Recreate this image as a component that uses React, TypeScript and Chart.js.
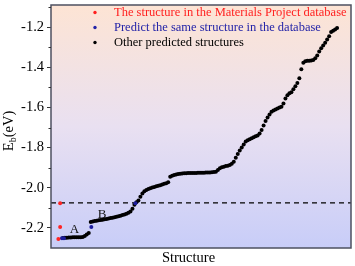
import React, { useEffect, useRef } from "react";
import { Chart, registerables } from "chart.js";

Chart.register(...registerables);

// Energies (eV) of "Other predicted structures", sorted; structure index starts at 6
const otherStart = 6;
const otherEnergies: number[] = [
  -2.250, -2.249, -2.249, -2.248, -2.248, -2.247, -2.247, -2.247, -2.246, -2.246,
  -2.245, -2.240, -2.233, -2.225, -2.171, -2.168, -2.166, -2.164, -2.162, -2.161,
  -2.159, -2.157, -2.155, -2.153, -2.151, -2.149, -2.147, -2.145, -2.142, -2.139,
  -2.136, -2.133, -2.129, -2.125, -2.118, -2.105, -2.085, -2.072, -2.063, -2.045,
  -2.028, -2.018, -2.011, -2.006, -2.002, -1.999, -1.996, -1.993, -1.990, -1.987,
  -1.984, -1.980, -1.977, -1.973, -1.945, -1.940, -1.937, -1.934, -1.932, -1.930,
  -1.929, -1.928, -1.928, -1.927, -1.927, -1.926, -1.926, -1.926, -1.925, -1.925,
  -1.925, -1.925, -1.924, -1.924, -1.924, -1.923, -1.922, -1.920, -1.912, -1.903,
  -1.898, -1.895, -1.892, -1.890, -1.887, -1.880, -1.870, -1.850, -1.832, -1.815,
  -1.800, -1.785, -1.770, -1.764, -1.758, -1.753, -1.748, -1.744, -1.740, -1.730,
  -1.713, -1.690, -1.668, -1.650, -1.635, -1.622, -1.615, -1.610, -1.605, -1.601,
  -1.597, -1.580, -1.555, -1.540, -1.530, -1.524, -1.510, -1.495, -1.478, -1.455,
  -1.410, -1.378, -1.370, -1.368, -1.367, -1.366, -1.364, -1.355, -1.342, -1.322,
  -1.305, -1.292, -1.278, -1.262, -1.245, -1.225, -1.218, -1.212, -1.205,
];

// Materials Project structures (red)
const mpIndex: number[] = [3.7, 4.6, 4.6];
const mpEnergies: number[] = [-2.255, -2.195, -2.077];

// Predicted same structure (blue)
const sameIndex: number[] = [5.5, 6.5, 20.3, 42.5];
const sameEnergies: number[] = [-2.252, -2.251, -2.196, -2.077];

const yTicks: number[] = [-2.2, -2.0, -1.8, -1.6, -1.4, -1.2];
const yMinorTicks: number[] = [-2.3, -2.1, -1.9, -1.7, -1.5, -1.3, -1.1];
const referenceLine = -2.075;

const legendItems: { label: string; color: string }[] = [
  { label: "The structure in the Materials Project database", color: "#ff1f1f" },
  { label: "Predict the same structure in the database", color: "#2323a8" },
  { label: "Other predicted structures", color: "#000000" },
];

const SERIF = "'Liberation Serif', 'Times New Roman', serif";

const decorPlugin = {
  id: "decor",
  beforeDatasetsDraw(chart: any) {
    const { ctx, chartArea: a, scales } = chart;
    ctx.save();
    const g = ctx.createLinearGradient(0, a.top, 0, a.bottom);
    g.addColorStop(0, "#fde4d4");
    g.addColorStop(0.5, "#e9e0f1");
    g.addColorStop(1, "#c8cdf8");
    ctx.fillStyle = g;
    ctx.fillRect(a.left, a.top, a.right - a.left, a.bottom - a.top);
    // dashed reference line
    const y = scales.y.getPixelForValue(referenceLine);
    ctx.strokeStyle = "#000";
    ctx.lineWidth = 1.2;
    ctx.setLineDash([5, 4]);
    ctx.beginPath();
    ctx.moveTo(a.left, y);
    ctx.lineTo(a.right, y);
    ctx.stroke();
    ctx.restore();
  },
  afterDraw(chart: any) {
    const { ctx, chartArea: a, scales } = chart;
    ctx.save();
    // frame
    ctx.strokeStyle = "#4d5060";
    ctx.lineWidth = 1.5;
    ctx.strokeRect(a.left, a.top, a.right - a.left, a.bottom - a.top);
    // minor ticks
    ctx.lineWidth = 1;
    ctx.strokeStyle = "#333";
    yMinorTicks.forEach((v) => {
      const py = Math.round(scales.y.getPixelForValue(v)) + 0.5;
      if (py < a.top || py > a.bottom) return;
      ctx.beginPath();
      ctx.moveTo(a.left - 2.5, py);
      ctx.lineTo(a.left, py);
      ctx.stroke();
    });
    // legend
    ctx.font = `12.5px ${SERIF}`;
    ctx.textBaseline = "middle";
    ctx.textAlign = "left";
    legendItems.forEach((it, i) => {
      const ly = 12.5 + i * 15;
      ctx.fillStyle = it.color;
      ctx.beginPath();
      ctx.arc(95, ly, 1.7, 0, Math.PI * 2);
      ctx.fill();
      ctx.fillText(it.label, 114, ly + 0.5);
    });
    // annotations
    ctx.fillStyle = "#111";
    ctx.font = `13px ${SERIF}`;
    ctx.textAlign = "center";
    ctx.textBaseline = "alphabetic";
    ctx.fillText("A", 74.5, 233);
    ctx.fillText("B", 102, 218);
    // x title
    ctx.fillStyle = "#000";
    ctx.font = `14.5px ${SERIF}`;
    ctx.fillText("Structure", 188.5, 262);
    // y title E_b(eV)
    ctx.translate(13, 131);
    ctx.rotate(-Math.PI / 2);
    const big = `14.5px ${SERIF}`;
    const small = `10px ${SERIF}`;
    ctx.font = big;
    const wE = ctx.measureText("E").width;
    const wRest = ctx.measureText("(eV)").width;
    ctx.font = small;
    const wb = ctx.measureText("b").width;
    const total = wE + wb + wRest;
    let x = -total / 2;
    ctx.textAlign = "left";
    ctx.font = big;
    ctx.fillText("E", x, 0);
    x += wE;
    ctx.font = small;
    ctx.fillText("b", x, 3);
    x += wb;
    ctx.font = big;
    ctx.fillText("(eV)", x, 0);
    ctx.restore();
  },
};

export default function App() {
  const ref = useRef<HTMLCanvasElement | null>(null);
  useEffect(() => {
    if (!ref.current) return;
    const chart = new Chart(ref.current, {
      type: "scatter",
      data: {
        datasets: [
          {
            label: legendItems[0].label,
            data: mpIndex.map((x, i) => ({ x, y: mpEnergies[i] })),
            backgroundColor: "#ff2424",
            pointRadius: 2,
            borderWidth: 0,
          },
          {
            label: legendItems[1].label,
            data: sameIndex.map((x, i) => ({ x, y: sameEnergies[i] })),
            backgroundColor: "#1c1c9c",
            pointRadius: 2,
            borderWidth: 0,
          },
          {
            label: legendItems[2].label,
            data: otherEnergies.map((y, i) => ({ x: otherStart + i, y })),
            backgroundColor: "#000000",
            pointRadius: 2,
            borderWidth: 0,
          },
        ],
      },
      options: {
        animation: false,
        responsive: false,
        devicePixelRatio: 1,
        layout: { padding: { left: 0, top: 5, right: 2, bottom: 0 } },
        plugins: { legend: { display: false }, tooltip: { enabled: false } },
        scales: {
          x: {
            type: "linear",
            min: 0,
            max: 151,
            grid: { display: false },
            border: { display: false },
            ticks: { display: false },
            afterFit: (s: any) => {
              s.height = 18;
            },
          },
          y: {
            min: -2.3,
            max: -1.09,
            afterBuildTicks: (s: any) => {
              s.ticks = yTicks.map((v) => ({ value: v }));
            },
            afterFit: (s: any) => {
              s.width = 51;
              s.paddingTop = 0;
              s.paddingBottom = 0;
            },
            grid: {
              drawOnChartArea: false,
              drawTicks: true,
              tickLength: 4,
              color: "#333",
            },
            border: { display: false },
            ticks: {
              color: "#000",
              padding: 3,
              font: { family: SERIF, size: 14.5, lineHeight: 0.5 },
              callback: (v: any) => Number(v).toFixed(1),
            },
          },
        },
      },
      plugins: [decorPlugin],
    });
    return () => chart.destroy();
  }, []);
  return (
    <div style={{ position: "fixed", left: 0, top: 0, width: 355, height: 266, background: "#fff" }}>
      <canvas ref={ref} width={355} height={266} style={{ width: 355, height: 266, display: "block" }} />
    </div>
  );
}
